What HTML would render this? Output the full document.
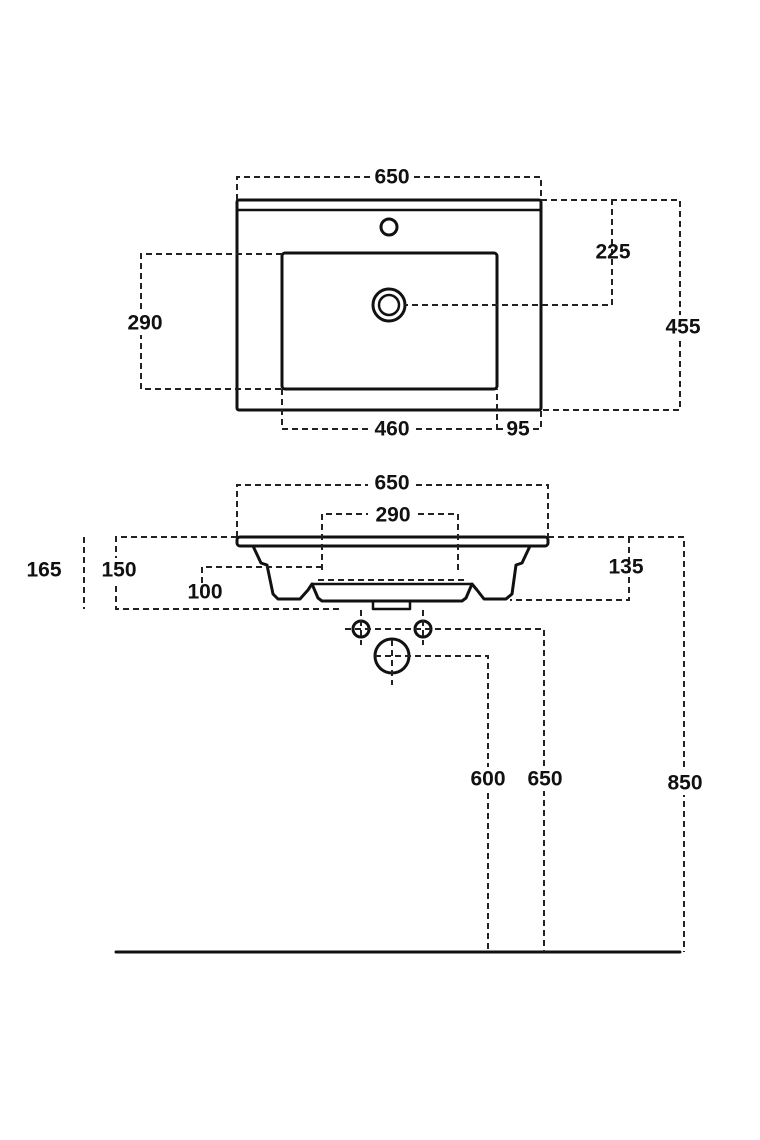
<!DOCTYPE html>
<html><head><meta charset="utf-8"><style>html,body{margin:0;padding:0;background:#fff}svg{display:block}text{font-family:"Liberation Sans",sans-serif;font-weight:bold;font-size:21px;fill:#111;text-anchor:middle;dominant-baseline:central}</style></head>
<body>
<svg width="760" height="1140" viewBox="0 0 760 1140" xmlns="http://www.w3.org/2000/svg">
<g fill="none" stroke="#111" stroke-linecap="round" stroke-linejoin="round">
<rect x="237" y="200" width="304" height="210" rx="2" stroke-width="3"/>
<line x1="237" y1="210" x2="541" y2="210" stroke-width="2.5"/>
<circle cx="389" cy="227" r="8" stroke-width="3"/>
<rect x="282" y="253" width="215" height="136" rx="3" stroke-width="3"/>
<circle cx="389" cy="305" r="16" stroke-width="3"/>
<circle cx="389" cy="305" r="10" stroke-width="2.5"/>
<rect x="237" y="537" width="311" height="9" rx="3" stroke-width="3"/>
<path d="M253 546 L261 563 L267 565 L273 594 L278 599 L300 599 L308 590 L312 584 L318 598 L322 601 L462 601 L466 598 L472 584 L477 590 L484 599 L506 599 L512 594 L516 565 L522 563 L530 546" stroke-width="3"/>
<path d="M312 584 L472 584" stroke-width="2.5"/>
<rect x="373" y="601" width="37" height="8" stroke-width="2.5"/>
<circle cx="361" cy="629" r="8" stroke-width="3"/>
<circle cx="423" cy="629" r="8" stroke-width="3"/>
<circle cx="392" cy="656" r="17" stroke-width="3"/>
<line x1="116" y1="952" x2="680" y2="952" stroke-width="3"/>
</g>
<g fill="none" stroke="#222" stroke-width="2" stroke-dasharray="6,4">
<path d="M237 200 V177 H370 M414 177 H541 V200"/>
<path d="M541 200 H612 V305 H405"/>
<path d="M541 200 H680 V410 H541"/>
<path d="M282 254 H141 V389 H282"/>
<path d="M282 389 V429 H368 M416 429 H497 V389"/>
<path d="M497 429 H505 M533 429 H541 V410"/>
<path d="M237 537 V485 H368 M416 485 H548 V537"/>
<path d="M322 570 V514 H368 M418 514 H458 V570"/>
<path d="M318 580 H467"/>
<path d="M237 537 H116 V609 H340"/>
<path d="M84 537 V609"/>
<path d="M322 567 H202 V585"/>
<path d="M548 537 H684 V952"/>
<path d="M629 537 V600 H510"/>
<path d="M345 629 H544 V952"/>
<path d="M361 610 V645 M423 610 V645"/>
<path d="M375 656 H488 V952"/>
<path d="M392 640 V685"/>
</g>
<rect x="370" y="165" width="44" height="24" fill="#fff"/>
<text x="392" y="177">650</text>
<text x="613" y="252">225</text>
<rect x="664" y="315" width="40" height="24" fill="#fff"/>
<text x="683" y="327">455</text>
<rect x="124" y="311" width="40" height="24" fill="#fff"/>
<text x="145" y="323">290</text>
<text x="392" y="429">460</text>
<rect x="505" y="418" width="28" height="22" fill="#fff"/>
<text x="518" y="429">95</text>
<text x="392" y="483">650</text>
<text x="393" y="515">290</text>
<rect x="24" y="558" width="42" height="24" fill="#fff"/>
<text x="44" y="570">165</text>
<rect x="98" y="558" width="42" height="24" fill="#fff"/>
<text x="119" y="570">150</text>
<text x="205" y="592">100</text>
<text x="626" y="567">135</text>
<rect x="467" y="767" width="42" height="24" fill="#fff"/>
<text x="488" y="779">600</text>
<rect x="524" y="767" width="42" height="24" fill="#fff"/>
<text x="545" y="779">650</text>
<rect x="664" y="771" width="42" height="24" fill="#fff"/>
<text x="685" y="783">850</text>
</svg>
</body></html>
